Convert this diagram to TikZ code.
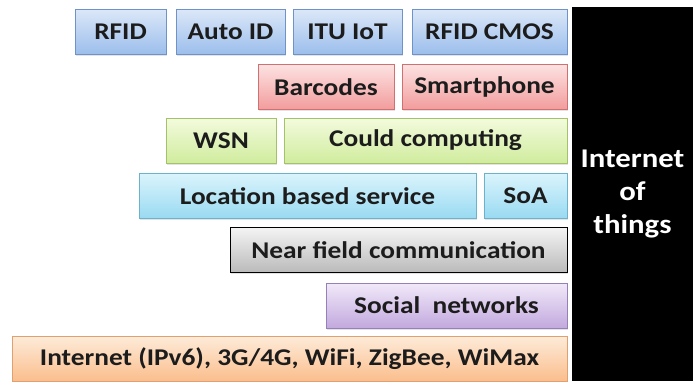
\documentclass[tikz,border=0pt]{standalone}
\usepackage{fontspec}
\setmainfont[FakeStretch=1.14]{Carlito}
\usetikzlibrary{shadows}
\definecolor{txt}{HTML}{1C1C1C}
\definecolor{blueT}{HTML}{DCE8F8}\definecolor{blueB}{HTML}{9CBEEC}\definecolor{blueD}{HTML}{6F93C8}
\definecolor{redT}{HTML}{FDE2E2}\definecolor{redB}{HTML}{F29C9C}\definecolor{redD}{HTML}{D07070}
\definecolor{greenT}{HTML}{F3FBDD}\definecolor{greenB}{HTML}{D0EC9E}\definecolor{greenD}{HTML}{A3C26A}
\definecolor{cyanT}{HTML}{DAF4FC}\definecolor{cyanB}{HTML}{98DAF2}\definecolor{cyanD}{HTML}{6DB2CB}
\definecolor{grayT}{HTML}{F4F4F4}\definecolor{grayB}{HTML}{BABABA}
\definecolor{purpleT}{HTML}{F1E9F9}\definecolor{purpleB}{HTML}{C2A9DE}\definecolor{purpleD}{HTML}{9580B8}
\definecolor{orangeT}{HTML}{FDEAD8}\definecolor{orangeB}{HTML}{FBBE8C}\definecolor{orangeD}{HTML}{E0A070}
\begin{document}
\begin{tikzpicture}
  [x=1pt, y=-1pt,
   every node/.style={font=\bfseries\fontsize{24}{28}\selectfont, text=txt, inner sep=0pt},
   layer/.style={rectangle, line width=0.8pt, minimum height=45,
                 drop shadow={opacity=0.22, shadow xshift=1pt, shadow yshift=-1.5pt}},
   bluebox/.style={layer, draw=blueD, top color=blueT, bottom color=blueB},
   redbox/.style={layer, draw=redD, top color=redT, bottom color=redB},
   greenbox/.style={layer, draw=greenD, top color=greenT, bottom color=greenB},
   cyanbox/.style={layer, draw=cyanD, top color=cyanT, bottom color=cyanB},
   graybox/.style={layer, draw=black, top color=grayT, bottom color=grayB},
   purplebox/.style={layer, draw=purpleD, top color=purpleT, bottom color=purpleB},
   orangebox/.style={layer, draw=orangeD, top color=orangeT, bottom color=orangeB}]
  \useasboundingbox (0,0) rectangle (693,381);
  \node[bluebox, minimum width=91] (rfid) at (120.5,31.5) {RFID};
  \node[bluebox, minimum width=109] (autoid) at (230.5,31.5) {Auto ID};
  \node[bluebox, minimum width=109] (itu) at (347.5,31.5) {ITU IoT};
  \node[bluebox, minimum width=155] (cmos) at (489.5,31.5) {RFID CMOS};
  \node[redbox, minimum width=136] (barcodes) at (326,87) {Barcodes};
  \node[redbox, minimum width=165] (phone) at (484.5,87) {Smartphone};
  \node[greenbox, minimum width=110] (wsn) at (221,140.5) {WSN};
  \node[greenbox, minimum width=283] (cloud) at (425.5,140.5) {Could computing};
  \node[cyanbox, minimum width=337] (lbs) at (307.5,196) {Location based service};
  \node[cyanbox, minimum width=83] (soa) at (525.5,196) {SoA};
  \node[graybox, minimum width=337] (nfc) at (398.5,250) {Near field communication};
  \node[purplebox, minimum width=241] (social) at (446.5,305.5) {Social\ \ networks};
  \node[orangebox, minimum width=555] (net) at (289.5,359) {Internet (IPv6), 3G/4G, WiFi, ZigBee, WiMax};
  \fill[black] (572,7) rectangle (693,381);
  \node[text=white, align=center, font=\bfseries\fontsize{27}{33}\selectfont] (iot) at (632.5,194) {Internet\\of\\things};
\end{tikzpicture}
\end{document}
